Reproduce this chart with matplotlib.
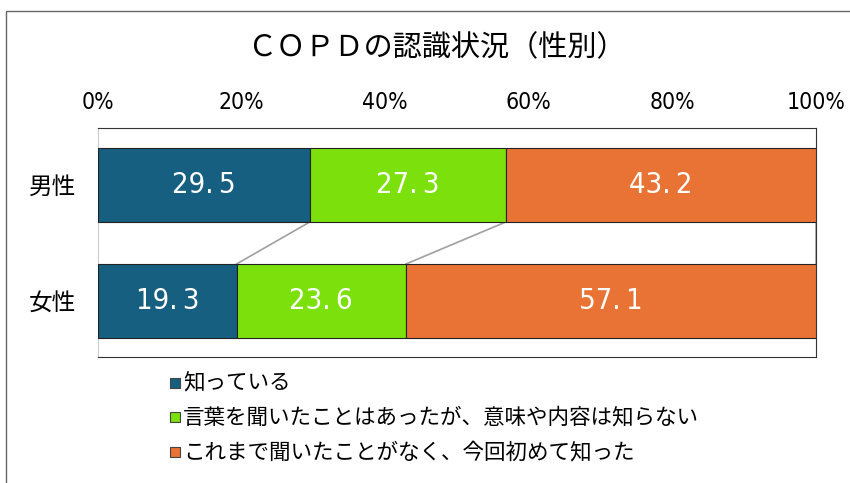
import matplotlib
matplotlib.use("Agg")
import matplotlib.pyplot as plt
from matplotlib.patches import Rectangle
import numpy as np

plt.rcParams['font.family'] = ['Noto Sans CJK JP', 'DejaVu Sans']

groups = ['男性', '女性']
series = ['知っている',
          '言葉を聞いたことはあったが、意味や内容は知らない',
          'これまで聞いたことがなく、今回初めて知った']
know = [29.5, 19.3]
heard = [27.3, 23.6]
never = [43.2, 57.1]
colors = ['#175f81', '#7be00c', '#e97334']
ticks = [0, 20, 40, 60, 80, 100]

narrow = dict(family='DejaVu Sans', stretch='condensed')

fig = plt.figure(figsize=(8.5, 4.83), dpi=100)
ax = fig.add_axes([98/850, 1-357/483, (816-98)/850, 229/483])

vals = np.array([know, heard, never])
ypos = np.arange(len(groups))
left = np.zeros(len(groups))
h = 0.638
for i, s in enumerate(series):
    ax.barh(ypos, vals[i], left=left, height=h, color=colors[i],
            edgecolor='#222222', linewidth=0.8, label=s, zorder=3)
    for y, l, v in zip(ypos, left, vals[i]):
        ax.text(l + v/2, y, f"{v:.1f}".replace('.', '.\u2009'), ha='center', va='center',
                color='white', fontsize=21, zorder=4, **narrow)
    left = left + vals[i]

# connector lines between bars
cum = np.cumsum(vals, axis=0)
for k in range(len(series)):
    ax.plot([cum[k][0], cum[k][1]], [ypos[0] + h/2, ypos[1] - h/2],
            color='#a0a0a0', linewidth=1.2, zorder=2)

ax.set_xlim(0, 100)
ax.set_ylim(1.483, -0.491)
ax.set_yticks(ypos)
ax.set_yticklabels(groups, fontsize=17)
ax.xaxis.tick_top()
ax.set_xticks(ticks)
ax.set_xticklabels([f"{t}%" for t in ticks], fontsize=16.5, **narrow)
ax.tick_params(length=0, pad=16)
ax.tick_params(axis='x', pad=10)
for sp in ['top', 'right', 'bottom']:
    ax.spines[sp].set_color('#333333')
ax.spines['left'].set_color('#cccccc')

fig.text(436/850, 1-48/483, 'ＣＯＰＤの認識状況（性別）', ha='center', va='center', fontsize=21)

# legend
ly = [383, 417, 452]
for s, c, y in zip(series, colors, ly):
    fig.patches.append(Rectangle((170/850, 1-(y+5)/483), 10/850, 10/483,
                                 transform=fig.transFigure, facecolor=c,
                                 edgecolor='#444444', linewidth=0.8))
    fig.text(183/850, 1-y/483, s, ha='left', va='center', fontsize=15.5)

fig.patches.append(Rectangle((6/850, -0.05), 1.0, 1-11/483+0.05,
                             transform=fig.transFigure, fill=False,
                             edgecolor='#666666', linewidth=1))

fig.savefig('out.png', dpi=100)
